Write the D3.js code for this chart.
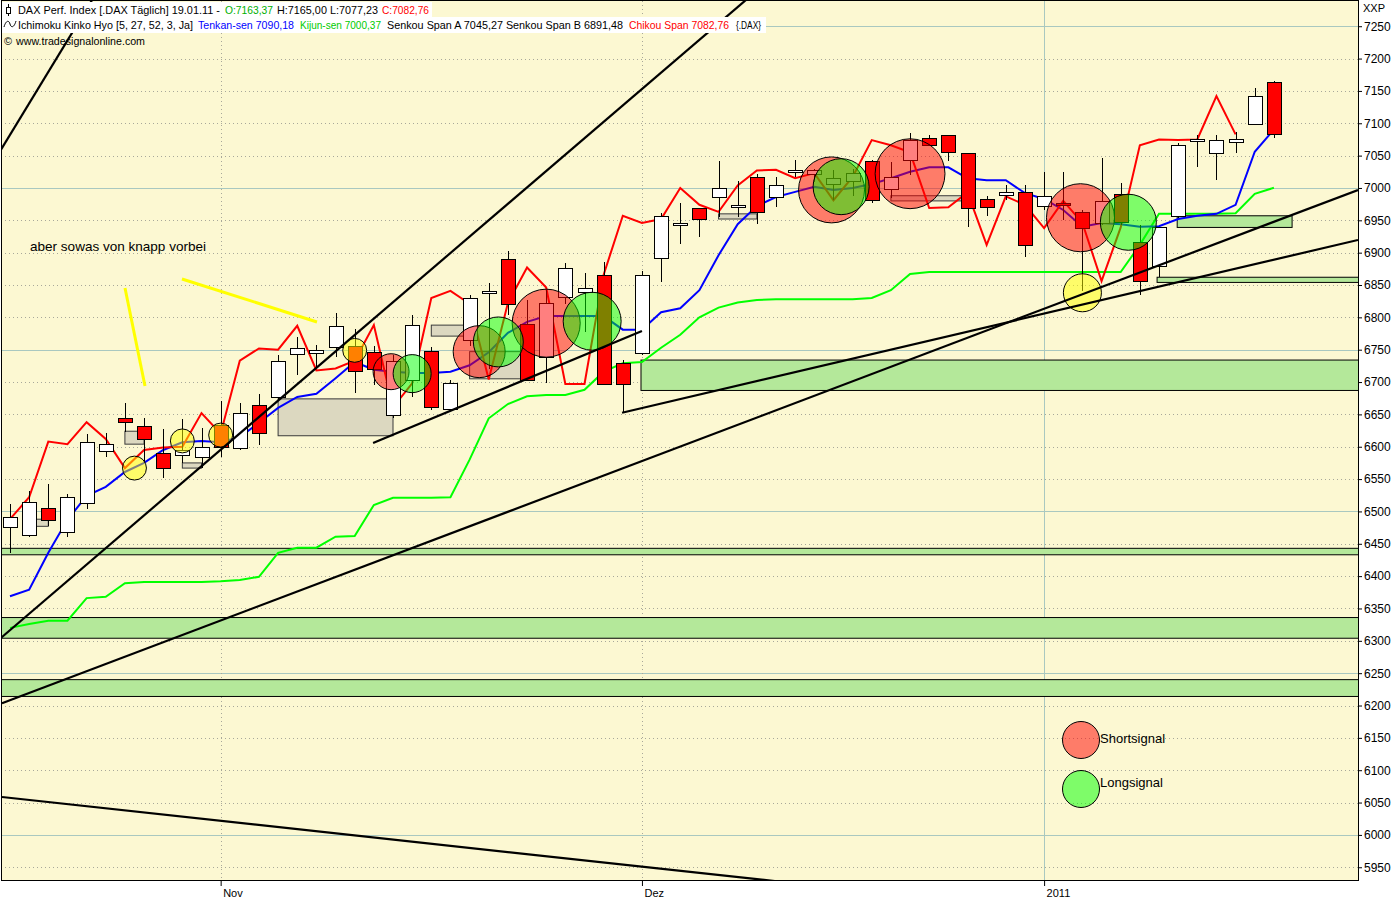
<!DOCTYPE html>
<html><head><meta charset="utf-8">
<script src="https://cdn.jsdelivr.net/npm/d3@7"></script>
<style>html,body{margin:0;padding:0;background:#fff;}svg{display:block;font-family:"Liberation Sans",Arial,sans-serif;}</style>
</head><body><svg id="c" width="1400" height="900"></svg>
<script>
// ---------- DATA ----------
const dates = ["15.10.10","18.10.10","19.10.10","20.10.10","21.10.10","22.10.10","25.10.10","26.10.10","27.10.10","28.10.10","29.10.10",
"01.11.10","02.11.10","03.11.10","04.11.10","05.11.10","08.11.10","09.11.10","10.11.10","11.11.10","12.11.10","15.11.10","16.11.10","17.11.10","18.11.10","19.11.10","22.11.10","23.11.10","24.11.10","25.11.10","26.11.10","29.11.10","30.11.10",
"01.12.10","02.12.10","03.12.10","06.12.10","07.12.10","08.12.10","09.12.10","10.12.10","13.12.10","14.12.10","15.12.10","16.12.10","17.12.10","20.12.10","21.12.10","22.12.10","23.12.10","27.12.10","28.12.10","29.12.10","30.12.10",
"03.01.11","04.01.11","05.01.11","06.01.11","07.01.11","10.01.11","11.01.11","12.01.11","13.01.11","14.01.11","17.01.11","18.01.11","19.01.11"];
const open = [6476,6463,6506,6468,6513,6593,6644,6632,6590,6588,
6584,6634,6598,6664,6677,6742,6745,6754,6756,6747,
6649,6703,6748,6658,6765,6838,6890,6790,6739,6832,
6840,6866,6730,6746,6892,6945,6969,6986,6973,7017,
6986,7026,7022,7006,7010,7041,6998,7043,7077,7082,
7054,6983,6988,6994,6972,6977,6963,6946,6990,6917,
6878,6957,7073,7054,7071,7099,7163.37];
const high = [6512,6531,6542,6527,6620,6622,6667,6644,6627,6643,
6629,6670,6667,6681,6742,6770,6757,6807,6782,6755,
6742,6804,6754,6703,6835,6853,6902,6827,6842,6884,
6869,6886,6734,6871,6961,6977,6969,7042,7011,7021,
7017,7043,7030,7028,7030,7043,7040,7085,7082,7082,
7054,6988,7005,7005,7025,7025,6966,7046,7008,6943,
6940,7070,7082,7082,7087,7154,7165.00];
const low = [6436,6460,6477,6460,6503,6584,6623,6575,6551,6575,
6567,6584,6595,6602,6672,6711,6724,6739,6683,6695,
6644,6677,6657,6655,6755,6720,6804,6703,6699,6820,
6778,6697,6653,6742,6855,6913,6924,6955,6955,6945,
6971,7017,7009,6981,6987,6977,6985,7020,7065,7041,
6940,6956,6981,6894,6966,6951,6840,6942,6943,6835,
6863,6954,7033,7013,7054,7097,7077.23];
const close = [6491,6514,6488,6522,6608,6604,6638,6612,6567,6595,
6599,6600,6652,6620,6733,6752,6750,6787,6718,6721,
6733,6788,6661,6698,6830,6841,6821,6704,6822,6877,
6846,6697,6697,6866,6957,6946,6952,7000,6974,6963,
7004,7027,7028,7015,7023,6981,7017,7074,7066,7055,
6969,6970,6993,6912,6987,6974,6938,6980,6946,6856,
6939,7066,7075,7074,7075,7142,7082.76];
const tenkan = [6369,6379,6436,6487,6524,6538,6561,6575,6595,6607,
6609,6607,6615,6637,6660,6677,6682,6706,6731,6719,
6716,6714,6714,6716,6726,6746,6776,6793,6802,6802,
6802,6802,6781,6781,6808,6814,6842,6896,6944,6972,
6986,6994,7002,6997,7000,7006,7015,7025,7032,7032,
7015,7012,7012,6992,6983,6966,6940,6946,6944,6940,
6941,6952,6957,6960,6974,7056,7090.18];
const kijun = [6320,6326,6331,6331,6366,6368,6389,6391,6391,6391,
6391,6392,6394,6399,6436,6444,6444,6461,6462,6510,
6521,6521,6521,6522,6580,6644,6666,6678,6680,6680,
6688,6716,6729,6731,6753,6773,6800,6815,6823,6827,
6828,6828,6828,6828,6828,6830,6842,6867,6870,6870,
6870,6870,6870,6870,6870,6870,6870,6870,6870,6912,
6960,6960,6960,6960,6961,6991,7000.37];
const chikou = [6488,6522,6608,6604,6638,6612,6567,6595,6599,6600,
6652,6620,6733,6752,6750,6787,6718,6721,6733,6788,
6661,6698,6830,6841,6821,6704,6822,6877,6846,6697,
6697,6866,6957,6946,6952,7000,6974,6963,7004,7027,
7028,7015,7023,6981,7017,7074,7066,7055,6969,6970,
6993,6912,6987,6974,6938,6980,6946,6856,6939,7066,
7075,7074,7075,7142,7082.76];
// signals (bar index, price, strength in points)
const shortIdx = [19.9,24.5,28.0,42.9,47.0,55.9];
const shortVal = [6716,6747,6791,6997,7022,6954];
const shortStr = [27.8,40.2,52.6,51,54,52.6];
const longIdx = [21.0,25.5,30.4,43.4,58.4];
const longVal = [6713,6762,6794,7002,6947];
const longStr = [29.4,38.6,44.8,43.3,43.3];
const markIdx = [6.5,9.0,11.0,18.0,56.0];
const markVal = [6567,6609,6618,6749,6838];
const markStr = [18.5,18.5,18.5,18.5,29.4];
// support zones (green) [fromIdx,toIdx,top,bottom]
const zoneFrom = [-1,-1,-1,32.95,60.95,59.9];
const zoneTo   = [72,72,72,72,66.95,72];
const zoneTop  = [6443,6336,6240,6734,6957,6862];
const zoneBot  = [6433,6304,6214,6687,6939,6854];
// gaps (beige boxes)
const gapFrom = [1,6,9,14,22,24,37,46];
const gapTo   = [2,7,10,20,24,27,39,50];
const gapTop  = [6488,6624,6575,6674,6788,6747,6960,6988];
const gapBot  = [6477,6604,6567,6617,6771,6705,6952,6980];
// trend lines
const trendI1 = [-1.044,-1.044,-0.418,31.96,18.96,-0.418];
const trendV1 = [7031.4,6290,6203.4,6652.6,6605.8,6058.6];
const trendI2 = [4.439,38.64,70.39,70.39,33.0,41.25];
const trendV2 = [7298,7295.9,6996.9,6919.6,6778.9,5924.4];
// hand drawn yellow strokes
const penI1 = [6.005,8.98], penV1 = [6845.4,6859.3], penI2 = [7.05,16.03], penV2 = [6693.9,6792.9];
const yTicks = [5950,6000,6050,6100,6150,6200,6250,6300,6350,6400,6450,6500,6550,6600,6650,6700,6750,6800,6850,6900,6950,7000,7050,7100,7150,7200,7250];
const monthIdx = [11,33,54];
const monthLabels = ["Nov","Dez","2011"];

// ---------- CHART ----------
const svg = d3.select("#c");
const P = {l:1, t:1, r:1358, b:880};
const x = d3.scaleLinear().domain([0,66]).range([10,1273.9]);
const y = d3.scaleLinear().domain([5930.3,7289]).range([880,1]);
const bw = 14;
const cream = "#fcf8d2";

svg.append("rect").attr("width",1400).attr("height",900).attr("fill","#fff");
svg.append("rect").attr("x",P.l).attr("y",P.t).attr("width",P.r-P.l).attr("height",P.b-P.t).attr("fill",cream);
svg.append("defs").append("clipPath").attr("id","pc").append("rect")
  .attr("x",P.l).attr("y",P.t).attr("width",P.r-P.l).attr("height",P.b-P.t);
const g = svg.append("g").attr("clip-path","url(#pc)");

// grid
yTicks.forEach(v=>{
  const major = v%250===0;
  g.append("line").attr("x1",P.l).attr("x2",P.r).attr("y1",Math.round(y(v))+0.5).attr("y2",Math.round(y(v))+0.5)
   .attr("stroke",major?"#a9c8c0":"#a8a89a").attr("stroke-width",1)
   .attr("stroke-dasharray",major?null:"1,3");
});
monthIdx.forEach((m,k)=>{
  const solid = monthLabels[k]==="2011";
  g.append("line").attr("x1",Math.round(x(m))+0.5).attr("x2",Math.round(x(m))+0.5).attr("y1",P.t).attr("y2",P.b)
   .attr("stroke",solid?"#a9c8c0":"#a8a89a").attr("stroke-dasharray",solid?null:"1,3");
});

// zones
zoneFrom.forEach((f,k)=>{
  g.append("rect").attr("x",x(f)).attr("width",x(zoneTo[k])-x(f))
   .attr("y",y(zoneTop[k])).attr("height",y(zoneBot[k])-y(zoneTop[k]))
   .attr("fill","#b4e89a").attr("stroke","#000").attr("stroke-width",1);
});
// gaps
gapFrom.forEach((f,k)=>{
  g.append("rect").attr("x",x(f)).attr("width",x(gapTo[k])-x(f))
   .attr("y",y(gapTop[k])).attr("height",y(gapBot[k])-y(gapTop[k]))
   .attr("fill","#dcd8c0").attr("stroke","#3a3a3a").attr("stroke-width",1);
});

// ichimoku lines
const ln = d3.line().x((d,i)=>x(i)).y(d=>y(d));
g.append("path").attr("d",ln(kijun)).attr("fill","none").attr("stroke","#00ff00").attr("stroke-width",2);
g.append("path").attr("d",ln(tenkan)).attr("fill","none").attr("stroke","#0000ff").attr("stroke-width",2);
g.append("path").attr("d",ln(chikou)).attr("fill","none").attr("stroke","#ff0000").attr("stroke-width",2);

// candles
const cg = g.append("g").attr("shape-rendering","crispEdges");
dates.forEach((d,i)=>{
  const cx = Math.round(x(i))+0.5;
  cg.append("line").attr("x1",cx).attr("x2",cx).attr("y1",y(high[i])).attr("y2",y(low[i])).attr("stroke","#000");
  const top = y(Math.max(open[i],close[i])), bot = y(Math.min(open[i],close[i]));
  const h = Math.max(2, bot-top);
  cg.append("rect").attr("x",Math.round(x(i))-bw/2+0.5).attr("y",Math.round(top)+0.5).attr("width",bw).attr("height",Math.round(h))
    .attr("fill",close[i]>=open[i]?"#ffffff":"#ff0000").attr("stroke","#000").attr("stroke-width",1);
});

// signal circles
const rpx = s => Math.abs(y(7000)-y(7000+s));
function circles(I,V,S,col){
  I.forEach((v,k)=>{
    g.append("circle").attr("cx",x(v)).attr("cy",y(V[k])).attr("r",rpx(S[k]))
      .attr("fill",col).attr("fill-opacity",0.5).attr("stroke","#000").attr("stroke-width",1);
  });
}
circles(markIdx,markVal,markStr,"#ffff00");
circles(shortIdx,shortVal,shortStr,"#ff0000");
circles(longIdx,longVal,longStr,"#00ff00");

// trend lines
trendI1.forEach((a,k)=>{
  g.append("line").attr("x1",x(a)).attr("y1",y(trendV1[k])).attr("x2",x(trendI2[k])).attr("y2",y(trendV2[k]))
   .attr("stroke","#000").attr("stroke-width",2.2);
});
penI1.forEach((a,k)=>{
  g.append("line").attr("x1",x(a)).attr("y1",y(penV1[k])).attr("x2",x(penI2[k])).attr("y2",y(penV2[k]))
   .attr("stroke","#ffff00").attr("stroke-width",3);
});

// annotation text
g.append("text").attr("x",30).attr("y",251).attr("font-size",13).attr("textLength",176).attr("lengthAdjust","spacingAndGlyphs")
 .text("aber sowas von knapp vorbei");

// legend
const leg = [["Shortsignal","#ff0000",740,743],["Longsignal","#00ff00",789,787]];
leg.forEach(l=>{
  g.append("circle").attr("cx",1081).attr("cy",l[2]).attr("r",18.5).attr("fill",l[1]).attr("fill-opacity",0.5).attr("stroke","#000");
  g.append("text").attr("x",1100).attr("y",l[3]).attr("font-size",13).text(l[0]);
});

// plot frame
svg.append("rect").attr("x",P.l+0.5).attr("y",P.t-0.5).attr("width",P.r-P.l).attr("height",P.b-P.t+0.5)
  .attr("fill","none").attr("stroke","#000").attr("shape-rendering","crispEdges");

// axes
const ya = d3.axisRight(y).tickValues(yTicks).tickSize(3).tickPadding(2).tickFormat(d3.format("d"));
const yg = svg.append("g").attr("transform",`translate(${P.r+1},0)`).call(ya);
yg.select(".domain").remove();
yg.selectAll("text").attr("font-size",12).attr("font-family","Liberation Sans, Arial, sans-serif").attr("fill","#000");
yg.selectAll("line").attr("stroke","#000");
svg.append("text").attr("x",1363).attr("y",12).attr("font-size",11).text("XXP");

const xa = d3.axisBottom(x).tickValues(monthIdx).tickSize(6).tickPadding(3).tickFormat((d,i)=>monthLabels[i]);
const xg = svg.append("g").attr("transform",`translate(0,${P.b})`).call(xa);
xg.select(".domain").remove();
xg.selectAll("text").attr("font-size",11).attr("font-family","Liberation Sans, Arial, sans-serif").attr("fill","#000")
  .attr("text-anchor","start").attr("dx",2);
xg.selectAll("line").attr("stroke","#000");

// header
svg.append("rect").attr("x",2).attr("y",2).attr("width",430).attr("height",15).attr("fill","#fff");
svg.append("rect").attr("x",2).attr("y",17).attr("width",764).attr("height",16).attr("fill","#fff");
// candle icon
svg.append("line").attr("x1",8.5).attr("x2",8.5).attr("y1",4).attr("y2",16).attr("stroke","#000");
svg.append("rect").attr("x",6.5).attr("y",7.5).attr("width",4).attr("height",6).attr("fill","#fff").attr("stroke","#000");
// wave icon
svg.append("path").attr("d","M4,27 C6,20 9,20 10,24 C11,28 14,28 16,21").attr("fill","none").attr("stroke","#000");
function seg(t,x0,x1,yb,col,fs){
  svg.append("text").attr("x",x0).attr("y",yb).attr("font-size",fs||11).attr("fill",col)
    .attr("textLength",x1-x0).attr("lengthAdjust","spacingAndGlyphs").text(t);
}
seg("DAX Perf. Index [.DAX  Täglich] 19.01.11 -",18,220,14,"#000");
seg("O:7163,37",225,273,14,"#00b000");
seg("H:7165,00 L:7077,23",277,378,14,"#000");
seg("C:7082,76",382,429,14,"#ff0000");
seg("Ichimoku Kinko Hyo [5, 27, 52, 3, Ja]",18,193,29,"#000");
seg("Tenkan-sen 7090,18",198,294,29,"#0000ff");
seg("Kijun-sen 7000,37",300,381,29,"#00cc00");
seg("Senkou Span A 7045,27 Senkou Span B 6891,48",387,623,29,"#000");
seg("Chikou Span 7082,76",629,729,29,"#ff0000");
seg("{.DAX}",736,761,29,"#000");
seg("©",4,12,45,"#000",10);
seg("www.tradesignalonline.com",16,145,45,"#000",11);
</script></body></html>
